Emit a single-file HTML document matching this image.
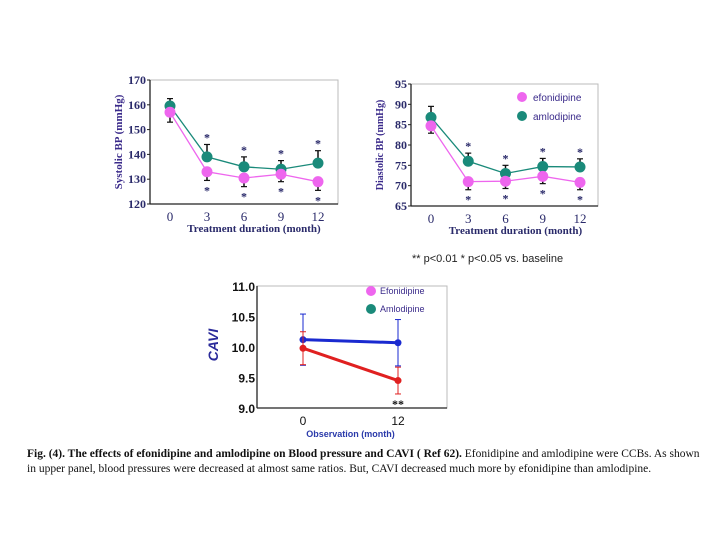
<!DOCTYPE html>
<html><head><meta charset="utf-8"><style>
body{margin:0;background:#fff;width:720px;height:540px;overflow:hidden;font-family:"Liberation Serif",serif}
svg{position:absolute;left:0;top:0}
.cap{position:absolute;left:27px;top:447px;width:680px;font-size:11.5px;line-height:15px;color:#111;font-family:"Liberation Serif",serif}
</style></head><body>
<svg width="720" height="540">
<g id="c1"></g>
<g id="c2"></g>
<g id="c3"></g>
</svg>
<div class="cap"><b>Fig. (4). The effects of efonidipine and amlodipine on Blood pressure and CAVI ( Ref 62).</b> Efonidipine and amlodipine were CCBs. As shown in upper panel, blood pressures were decreased at almost same ratios. But, CAVI decreased much more by efonidipine than amlodipine.</div>
<script>
const months=[0,3,6,9,12];
const sysEfo=[157,133,130.5,132,129];
const sysAml=[159.5,139,135,134,136.5];
const sysEfoErr=[4,3.5,3.5,3,3.5];
const sysAmlErr=[3,5,4,3.5,5];
const sysTicks=[120,130,140,150,160,170];
const diaEfo=[84.7,71,71.1,72.3,70.8];
const diaAml=[86.8,76,73,74.7,74.6];
const diaEfoErr=[1.8,2,1.8,1.8,1.8];
const diaAmlErr=[2.7,2,2,2,2];
const diaTicks=[65,70,75,80,85,90,95];
const caviMonths=[0,12];
const caviEfo=[9.98,9.45];
const caviAml=[10.12,10.07];
const caviEfoErr=[0.27,0.22];
const caviAmlErr=[0.42,0.38];
const caviTicks=[9.0,9.5,10.0,10.5,11.0];
const NS='http://www.w3.org/2000/svg';
function mk(p,t,a,txt){const e=document.createElementNS(NS,t);for(const k in a)e.setAttribute(k,a[k]);if(txt!==undefined)e.textContent=txt;p.appendChild(e);return e;}
function bpChart(g,L,R,T,B,x0,x12,ymin,ymax,ticks,efo,aml,ee,ae,ytitle,xtitle,yfs){
 const sx=m=>x0+(x12-x0)*m/12, sy=v=>B-(B-T)*(v-ymin)/(ymax-ymin);
 let e=mk(g,'rect',{x:L,y:T,width:R-L,height:B-T,fill:'none',stroke:'#bbb'});
 
 mk(g,'line',{x1:L,y1:T,x2:L,y2:B,stroke:'#222','stroke-width':1.3});
 mk(g,'line',{x1:L,y1:B,x2:R,y2:B,stroke:'#222','stroke-width':1.3});
 ticks.forEach(t=>{mk(g,'line',{x1:L-3,y1:sy(t),x2:L,y2:sy(t),stroke:'#222'});
  e=mk(g,'text',{x:L-4,y:sy(t)+4,'text-anchor':'end','font-size':12,'font-weight':'bold',fill:'#2a2a6a'},t);
  });
 months.forEach(m=>{e=mk(g,'text',{x:sx(m),y:B+17,'text-anchor':'middle','font-size':13,fill:'#2a2a6a'},m);
  });
 e=mk(g,'text',{x:(x0+x12)/2+10,y:B+28,'text-anchor':'middle','font-size':11,'font-weight':'bold',fill:'#2a2a6a'},xtitle);
 
 e=mk(g,'text',{transform:`translate(${L-28},${(T+B)/2}) rotate(-90)`,'text-anchor':'middle','font-size':yfs,'font-weight':'bold',fill:'#3a2a8a'},ytitle);
 
 [[aml,ae,'#1a8a7a','amlodipine',-1],[efo,ee,'#ee66ee','efonidipine',1]].forEach(([d,er,c,n,dir])=>{
  e=mk(g,'polyline',{points:d.map((v,i)=>sx(months[i])+','+sy(v)).join(' '),fill:'none',stroke:c,'stroke-width':1.3});
  
  d.forEach((v,i)=>{const x=sx(months[i]);const end=sy(v-dir*er[i]);
   mk(g,'line',{x1:x,y1:sy(v),x2:x,y2:end,stroke:'#111','stroke-width':1.5});
   mk(g,'line',{x1:x-3,y1:end,x2:x+3,y2:end,stroke:'#111','stroke-width':1.2});
   e=mk(g,'circle',{cx:x,cy:sy(v),r:5.5,fill:c});
   
   if(i>0)mk(g,'text',{x:x,y:end+(dir>0?14:-3),'text-anchor':'middle','font-size':12,'font-weight':'bold',fill:'#2a2a6a'},'*');
  });});
}
bpChart(document.getElementById('c1'),150,338,80,204,170,318,120,170,sysTicks,sysEfo,sysAml,sysEfoErr,sysAmlErr,'Systolic BP (mmHg)','Treatment duration (month)',11);
bpChart(document.getElementById('c2'),411,598,84,206,431,580,65,95,diaTicks,diaEfo,diaAml,diaEfoErr,diaAmlErr,'Diastolic BP (mmHg)','Treatment duration (month)',10);
const g2=document.getElementById('c2');
let e;
e=mk(g2,'circle',{cx:522,cy:97,r:5,fill:'#ee66ee'});
mk(g2,'text',{x:533,y:101,'font-size':10,'font-family':'Liberation Sans',fill:'#3a2a8a'},'efonidipine');
e=mk(g2,'circle',{cx:522,cy:116,r:5,fill:'#1a8a7a'});
mk(g2,'text',{x:533,y:120,'font-size':10,'font-family':'Liberation Sans',fill:'#3a2a8a'},'amlodipine');
e=mk(g2,'text',{x:412,y:262,'font-size':11,'font-family':'Liberation Sans',fill:'#222'},'** p<0.01   * p<0.05  vs. baseline');

(function(){const g=document.getElementById('c3');const L=257,R=447,T=286,B=408,x0=303,x12=398;
 const sx=m=>x0+(x12-x0)*m/12, sy=v=>B-(B-T)*(v-9)/2;
 mk(g,'rect',{x:L,y:T,width:R-L,height:B-T,fill:'none',stroke:'#bbb'});
 mk(g,'line',{x1:L,y1:T,x2:L,y2:B,stroke:'#222','stroke-width':1.3});
 mk(g,'line',{x1:L,y1:B,x2:R,y2:B,stroke:'#222','stroke-width':1.3});
 caviTicks.forEach(t=>{e=mk(g,'text',{x:L-2,y:sy(t)+5,'text-anchor':'end','font-size':12,'font-weight':'bold','font-family':'Liberation Sans',fill:'#111'},t.toFixed(1));
  });
 caviMonths.forEach(m=>{mk(g,'text',{x:sx(m),y:B+17,'text-anchor':'middle','font-size':12,'font-family':'Liberation Sans',fill:'#111'},m);});
 e=mk(g,'text',{x:(x0+x12)/2,y:B+29,'text-anchor':'middle','font-size':9,'font-weight':'bold','font-family':'Liberation Sans',fill:'#2a3aaa'},'Observation (month)');
 
 e=mk(g,'text',{transform:`translate(218,345) rotate(-90)`,'text-anchor':'middle','font-size':14,'font-weight':'bold','font-style':'italic','font-family':'Liberation Sans',fill:'#2a2a9a'},'CAVI');
 
 [[caviAml,caviAmlErr,'#1a2ad0','amlodipine'],[caviEfo,caviEfoErr,'#e02020','efonidipine']].forEach(([d,er,c,n])=>{
  d.forEach((v,i)=>{const x=sx(caviMonths[i]);mk(g,'line',{x1:x,y1:sy(v-er[i]),x2:x,y2:sy(v+er[i]),stroke:c,'stroke-width':1});
   mk(g,'line',{x1:x-3,y1:sy(v+er[i]),x2:x+3,y2:sy(v+er[i]),stroke:c});mk(g,'line',{x1:x-3,y1:sy(v-er[i]),x2:x+3,y2:sy(v-er[i]),stroke:c});});
  e=mk(g,'polyline',{points:d.map((v,i)=>sx(caviMonths[i])+','+sy(v)).join(' '),fill:'none',stroke:c,'stroke-width':3});
  
  d.forEach((v,i)=>{e=mk(g,'circle',{cx:sx(caviMonths[i]),cy:sy(v),r:3.5,fill:c});});
 });
 mk(g,'text',{x:sx(12),y:sy(caviEfo[1]-caviEfoErr[1])+14,'text-anchor':'middle','font-size':12,'font-weight':'bold',fill:'#111'},'**');
 e=mk(g,'circle',{cx:371,cy:291,r:5,fill:'#ee66ee'});
 mk(g,'text',{x:380,y:294,'font-size':9,'font-family':'Liberation Sans',fill:'#3a2a8a'},'Efonidipine');
 e=mk(g,'circle',{cx:371,cy:309,r:5,fill:'#1a8a7a'});
 mk(g,'text',{x:380,y:312,'font-size':9,'font-family':'Liberation Sans',fill:'#3a2a8a'},'Amlodipine');
})();
</script>
</body></html>
